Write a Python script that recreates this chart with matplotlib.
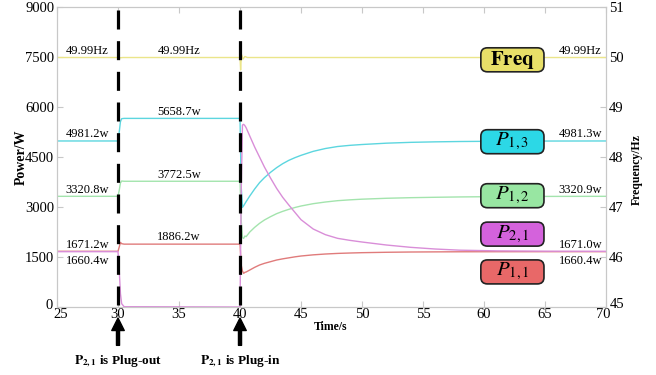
import matplotlib
matplotlib.use("Agg")
import matplotlib.pyplot as plt
from matplotlib.patches import FancyBboxPatch
from matplotlib.transforms import ScaledTranslation

plt.rcParams['font.family'] = ['Liberation Serif', 'DejaVu Serif']
plt.rcParams['mathtext.fontset'] = 'stix'

# time samples (s)
t = [25, 30.0, 30.1, 30.2, 30.3, 30.5, 40.0, 40.1, 40.2, 40.3, 40.4, 40.5, 40.8,
     41.2, 41.6, 42.0, 42.5, 43.0, 43.5, 44.0, 44.5, 45.0, 46.0, 47.0, 48.0, 49.0,
     50.0, 52.0, 54.0, 56.0, 58.0, 61.0, 65.0, 70.0]

# power (W)
p13 = [4981.2, 4981.2, 5250, 5560, 5650, 5658.7, 5658.7, 3600, 2990, 3040, 3100,
       3160, 3330, 3540, 3730, 3880, 4040, 4180, 4300, 4400, 4480, 4550, 4670,
       4755, 4815, 4850, 4875, 4915, 4940, 4955, 4965, 4973, 4979, 4981.3]
p12 = [3320.8, 3320.8, 3500, 3720, 3780, 3772.5, 3772.5, 2600, 2080, 2060, 2130,
       2110, 2250, 2390, 2510, 2610, 2710, 2800, 2870, 2930, 2985, 3030, 3100,
       3150, 3190, 3215, 3235, 3262, 3280, 3292, 3302, 3312, 3318, 3320.9]
p21 = [1660.4, 1660.4, 1100, 400, 100, 10, 0, 3500, 5460, 5480, 5440,
       5380, 5130, 4800, 4500, 4200, 3870, 3560, 3290, 3060, 2840, 2620, 2340,
       2170, 2060, 2000, 1950, 1860, 1790, 1740, 1705, 1685, 1675, 1671.0]
p11 = [1671.2, 1671.2, 1800, 1940, 1900, 1886.2, 1886.2, 1250, 1080, 1010, 1040,
       1050, 1110, 1190, 1260, 1310, 1360, 1410, 1445, 1475, 1505, 1530, 1565,
       1590, 1608, 1620, 1630, 1642, 1650, 1654, 1657, 1659, 1660, 1660.4]

# frequency (Hz)
tf = [25, 29.95, 30.05, 30.2, 30.4, 40.0, 40.05, 40.12, 40.25, 40.4, 40.6, 70]
freq = [49.99, 49.99, 49.975, 49.985, 49.99, 49.99, 49.74, 50.05, 49.96, 50.01,
        49.99, 49.99]

events = [30, 40]
event_labels = [r"$\mathbf{P}_{\mathbf{2,1}}$ is Plug-out",
                r"$\mathbf{P}_{\mathbf{2,1}}$ is Plug-in"]

c_freq, c13, c12, c21, c11 = '#ebe58a', '#5cd6df', '#a3e4ad', '#d98ed8', '#e07b7b'
box_colors = ['#e8df68', '#2cd8e6', '#98e6a2', '#d462dc', '#e86868']
box_texts = [r'$\mathbf{Freq}$', r'$P_{1,3}$', r'$P_{1,2}$', r'$P_{2,1}$', r'$P_{1,1}$']
box_y = [0.824, 0.551, 0.371, 0.243, 0.117]

fig = plt.figure(figsize=(6.56, 3.75), dpi=100)
ax = fig.add_axes([0.0869, 0.1813, 0.8369, 0.8])
ax2 = ax.twinx()

ax.plot(t, p13, color=c13, lw=1)
ax.plot(t, p12, color=c12, lw=1)
ax.plot(t, p11, color=c11, lw=1)
ax.plot(t, p21, color=c21, lw=1)
ax2.plot(tf, freq, color=c_freq, lw=1)

ax.set_xlim(25, 70)
ax.set_ylim(0, 9000)
ax2.set_ylim(45, 51)
ax.set_xticks(range(25, 71, 5))
ax.set_yticks(range(0, 9001, 1500))
ax2.set_yticks(range(45, 52))

for a in (ax, ax2):
    for s in a.spines.values():
        s.set_color('#c8c8c8')
ax.tick_params(direction='in', color='#c8c8c8', length=4, labelsize=10.5, pad=2, top=True)
ax.tick_params(axis='x', pad=1)
ax2.tick_params(direction='in', color='#c8c8c8', length=4, labelsize=10.5, pad=2)

# nudge the corner tick labels like the original
def nudge(label, dx, dy):
    label.set_transform(label.get_transform() + ScaledTranslation(dx / 100, dy / 100, fig.dpi_scale_trans))

xt = ax.get_xticklabels()
nudge(xt[0], 4, 0)
nudge(xt[-1], -3, 0)
nudge(ax.get_yticklabels()[0], -1, 3)
nudge(ax2.get_yticklabels()[0], 1, 4)

# event markers
for x in events:
    ax2.plot([x, x], [50.94, 45.0], color='black', lw=2.3, dashes=(5.95, 3.65), zorder=5)
for x, lab in zip(events, event_labels):
    ax.annotate('', xy=(x, -330), xytext=(x, -1150), annotation_clip=False,
                arrowprops=dict(facecolor='black', edgecolor='black', width=2.2,
                                headwidth=9, headlength=9, shrink=0))
    ax.text(x, -1620, lab, ha='center', va='center', fontsize=9.5,
            fontweight='bold', clip_on=False)

# value labels
fs = 9
for x, ys in [(27.5, [('49.99Hz', 7485), ('4981.2w', 4981.2), ('3320.8w', 3320.8), ('1671.2w', 1671.2)]),
              (35, [('49.99Hz', 7485), ('5658.7w', 5658.7), ('3772.5w', 3772.5), ('1886.2w', 1886.2)]),
              (67.9, [('49.99Hz', 7485), ('4981.3w', 4981.3), ('3320.9w', 3320.9), ('1671.0w', 1671.0)])]:
    for txt, y in ys:
        ax.text(x, y + 20, txt, ha='center', va='bottom', fontsize=fs)
ax.text(27.5, 1660.4 - 90, '1660.4w', ha='center', va='top', fontsize=fs)
ax.text(67.9, 1660.4 - 90, '1660.4w', ha='center', va='top', fontsize=fs)

# legend boxes
bw, bh = 0.115, 0.08
for yc, col, txt in zip(box_y, box_colors, box_texts):
    box = FancyBboxPatch((0.772, yc - bh / 2), bw, bh, transform=ax2.transAxes,
                         boxstyle='round,pad=0,rounding_size=0.012', mutation_aspect=1.83,
                         facecolor=col, edgecolor='#222222', lw=1.2, zorder=6)
    ax2.add_patch(box)
    ax2.text(0.772 + bw / 2, yc, txt, transform=ax2.transAxes, ha='center', va='center',
             fontsize=15, zorder=7)

fig.text(21 / 656, 1 - 157 / 375, 'Power/W', rotation=90, ha='center', va='center',
         fontsize=10, fontweight='bold')
fig.text(637 / 656, 1 - 170 / 375, 'Frequency/Hz', rotation=90, ha='center', va='center',
         fontsize=8.5, fontweight='bold')
fig.text(331 / 656, 1 - 327 / 375, 'Time/s', ha='center', va='center',
         fontsize=8.5, fontweight='bold')

fig.savefig('out.png', dpi=100)
